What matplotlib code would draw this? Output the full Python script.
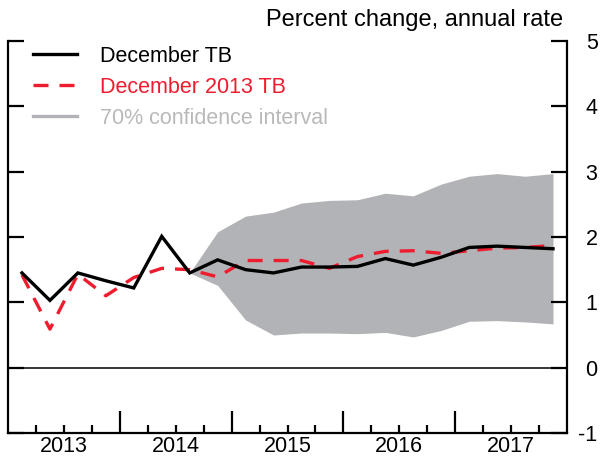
import matplotlib
matplotlib.use("Agg")
import matplotlib.pyplot as plt
import matplotlib.transforms as mtransforms
from matplotlib.lines import Line2D
import numpy as np

plt.rcParams['font.family'] = ['Liberation Sans', 'DejaVu Sans']

# Quarterly data, 2013:Q1 - 2017:Q4
quarters = ['2013Q1', '2013Q2', '2013Q3', '2013Q4',
            '2014Q1', '2014Q2', '2014Q3', '2014Q4',
            '2015Q1', '2015Q2', '2015Q3', '2015Q4',
            '2016Q1', '2016Q2', '2016Q3', '2016Q4',
            '2017Q1', '2017Q2', '2017Q3', '2017Q4']
december_tb = [1.45, 1.03, 1.45, 1.33, 1.22, 2.01, 1.45, 1.65,
               1.50, 1.45, 1.54, 1.54, 1.55, 1.67, 1.57, 1.69,
               1.84, 1.86, 1.84, 1.82]
december_2013_tb = [1.42, 0.59, 1.43, 1.10, 1.38, 1.52, 1.50, 1.39,
                    1.64, 1.64, 1.64, 1.52, 1.70, 1.78, 1.79, 1.75,
                    1.79, 1.83, 1.84, 1.87]
# 70% confidence interval, starting from 2014Q3
ci_quarters = quarters[6:]
ci_upper = [1.45, 2.08, 2.32, 2.38, 2.52, 2.56, 2.57, 2.67, 2.63, 2.81,
            2.93, 2.97, 2.93, 2.97]
ci_lower = [1.45, 1.26, 0.73, 0.50, 0.53, 0.53, 0.52, 0.54, 0.47, 0.57,
            0.71, 0.72, 0.70, 0.67]
year_labels = ['2013', '2014', '2015', '2016', '2017']
y_ticks = [-1, 0, 1, 2, 3, 4, 5]


def qpos(q):
    year, qn = int(q[:4]), int(q[-1])
    return year + (qn - 0.5) / 4.0


x = np.array([qpos(q) for q in quarters])
x_ci = np.array([qpos(q) for q in ci_quarters])

RED = '#ee1c2e'
BAND = '#b2b3b6'
BAND_TEXT = '#b9b9b9'
LW = 2.4
DASH = (4.5, 3.3)

fig = plt.figure(figsize=(6.01, 4.58), dpi=100)
W, H = 601, 458
ax = fig.add_axes([8 / W, 25 / H, 559 / W, 392 / H])

ax.fill_between(x_ci, ci_lower, ci_upper, color=BAND, linewidth=0, zorder=1)
ax.axhline(0, color='black', linewidth=1.1, zorder=2)
ax.plot(x, december_tb, color='black', linewidth=LW, zorder=4,
        solid_joinstyle='miter')
ax.plot(x, december_2013_tb, color=RED, linewidth=LW, zorder=3,
        dashes=DASH)

ax.set_xlim(2013, 2018)
ax.set_ylim(-1, 5)

for s in ax.spines.values():
    s.set_linewidth(1.6)
ax.spines['top'].set_visible(False)

# y axis: inward ticks on both sides, labels on the right
ax.set_yticks(y_ticks)
ax.set_yticklabels([str(v) for v in y_ticks])
ax.tick_params(axis='y', direction='in', length=11.5, width=1.6,
               left=True, right=True, labelleft=False, labelright=True,
               labelsize=15.5, pad=22)
for lbl in ax.get_yticklabels():
    lbl.set_horizontalalignment('right')

# x axis: year boundaries (long) and quarter marks (short)
ax.set_xticks([2014, 2015, 2016, 2017])
ax.set_xticklabels([])
ax.set_xticks([2013 + k / 4 for k in range(1, 20) if k % 4], minor=True)
ax.tick_params(axis='x', which='major', direction='in', length=16, width=1.6)
ax.tick_params(axis='x', which='minor', direction='in', length=5.5, width=1.6)

trans = mtransforms.blended_transform_factory(ax.transData, ax.transAxes)
offset = mtransforms.ScaledTranslation(0, -2 / 72, fig.dpi_scale_trans)
for i, lab in enumerate(year_labels):
    ax.text(2013.5 + i, 0, lab, transform=trans + offset, ha='center',
            va='top', fontsize=15.5)

fig.text(563 / W, 1 - 20 / H, 'Percent change, annual rate', ha='right',
         va='center', fontsize=17)

handles = [Line2D([], [], color='black', linewidth=LW),
           Line2D([], [], color=RED, linewidth=LW, dashes=DASH),
           Line2D([], [], color=BAND, linewidth=LW)]
labels = ['December TB', 'December 2013 TB', '70% confidence interval']
leg = fig.legend(handles, labels, loc='upper left', frameon=False,
                 bbox_to_anchor=(33 / W, 1 - 46 / H),
                 bbox_transform=fig.transFigure, fontsize=15.5,
                 handlelength=2.05, handletextpad=1.05, labelspacing=0.46,
                 borderpad=0, borderaxespad=0)
for txt, col in zip(leg.get_texts(), ['black', RED, BAND_TEXT]):
    txt.set_color(col)

fig.savefig('out.png', dpi=100)
